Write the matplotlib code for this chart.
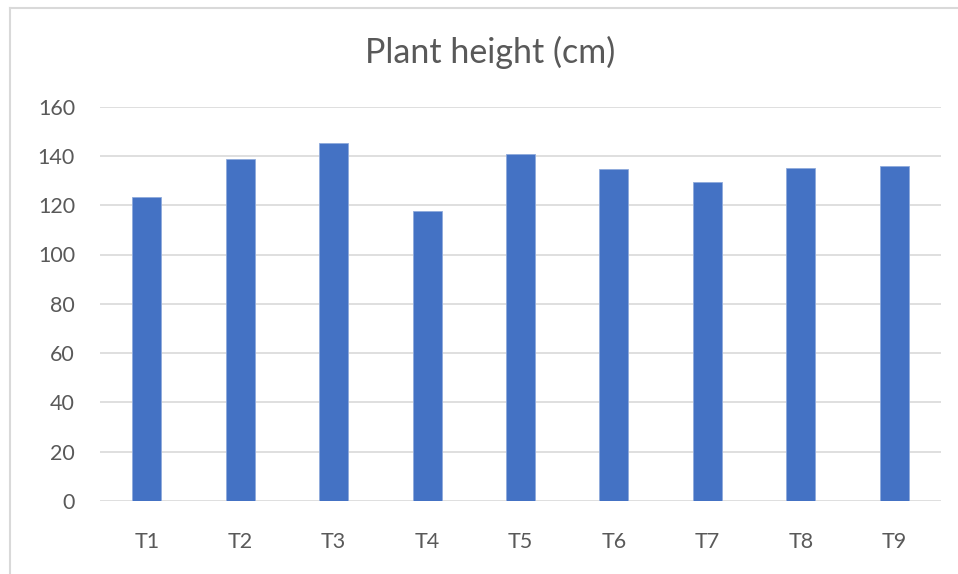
import matplotlib
matplotlib.use("Agg")
import matplotlib.pyplot as plt
from matplotlib.lines import Line2D

categories = ["T1", "T2", "T3", "T4", "T5", "T6", "T7", "T8", "T9"]
values = [123.4, 138.6, 145.1, 117.6, 140.7, 134.5, 129.5, 134.9, 135.9]
yticks = [0, 20, 40, 60, 80, 100, 120, 140, 160]
title = "Plant height (cm)"

W, H = 958, 574
fig = plt.figure(figsize=(W / 100, H / 100), dpi=100)
plt.rcParams['font.family'] = ['Lato', 'DejaVu Sans']

ax = fig.add_axes([100 / W, (H - 501) / H, (941 - 100) / W, (501 - 106.6) / H])
x = list(range(len(categories)))
ax.bar(x, values, width=0.31, color="#4472C4", edgecolor="#8FAADC", linewidth=0.6, zorder=3)
ax.set_xlim(-0.5, len(categories) - 0.5)
ax.set_ylim(0, 160)
ax.set_yticks(yticks)
ax.set_yticklabels([str(v) for v in yticks])
ax.set_xticks(x)
ax.set_xticklabels(categories)
ax.grid(axis="y", color="#d9d9d9", linewidth=1.2, zorder=0)
for s in ax.spines.values():
    s.set_visible(False)
ax.tick_params(axis="both", length=0, labelsize=15.5, colors="#595959")
ax.tick_params(axis="y", pad=18)
ax.tick_params(axis="x", pad=22)

fig.text(490 / W, 1 - 52 / H, title, ha="center", va="center", fontsize=24.5, color="#595959")

# outer chart frame (left and top edges visible)
fig.add_artist(Line2D([10 / W, 10 / W], [0, 1 - 8 / H], transform=fig.transFigure, color="#d9d9d9", linewidth=1.5))
fig.add_artist(Line2D([10 / W, 1], [1 - 8 / H, 1 - 8 / H], transform=fig.transFigure, color="#d9d9d9", linewidth=1.5))

fig.savefig("out.png", dpi=100)
